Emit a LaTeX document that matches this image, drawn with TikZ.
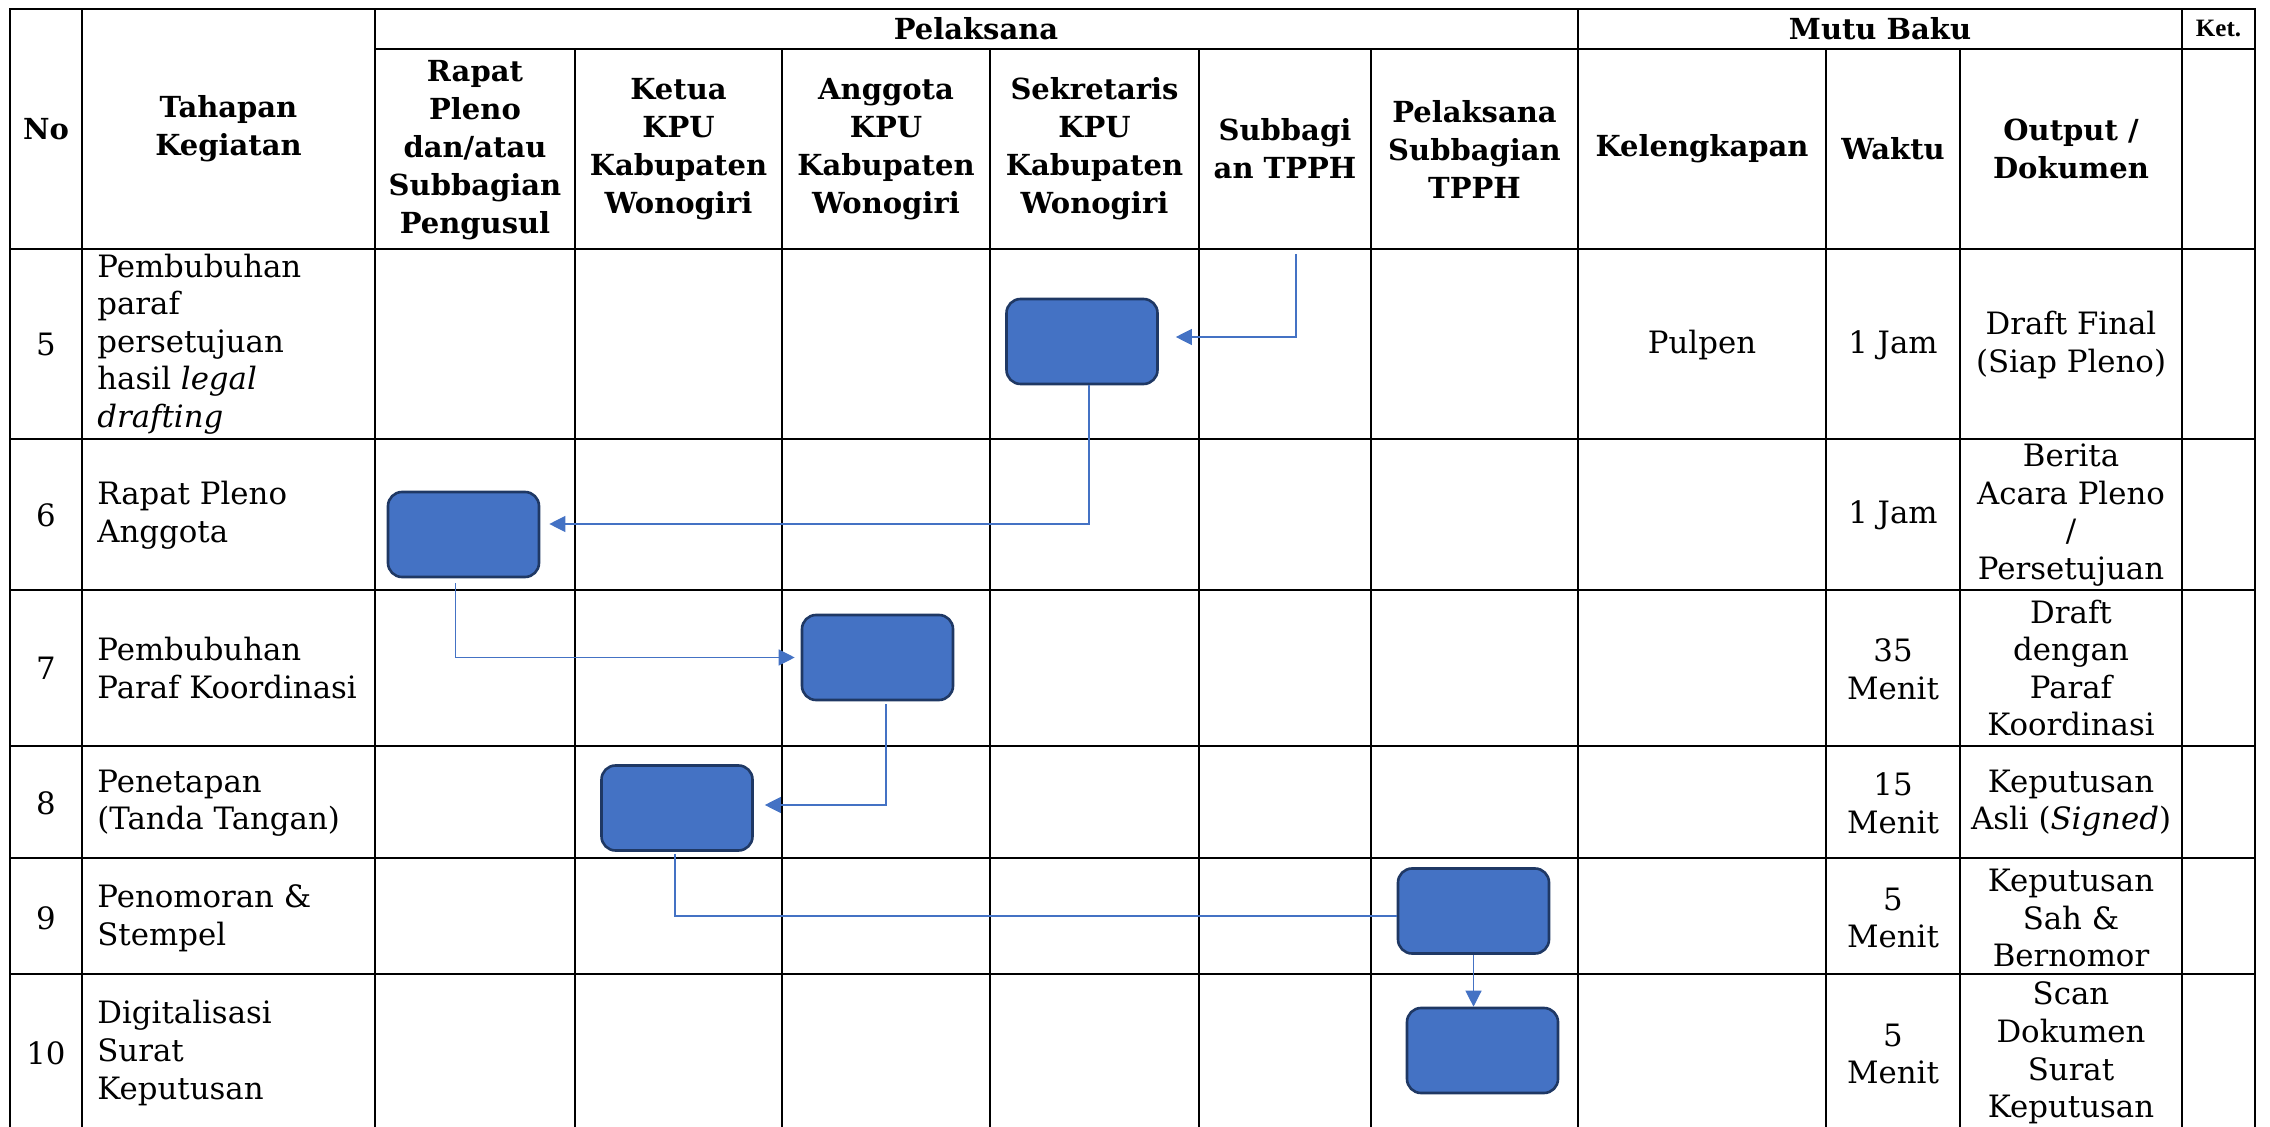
\documentclass[tikz,border=0pt]{standalone}
\usepackage{fontspec}
\setmainfont{DejaVu Serif}
\newfontfamily\ketfont{Liberation Serif}
\usetikzlibrary{arrows.meta,calc}
\definecolor{boxfill}{HTML}{4472C4}
\definecolor{boxline}{HTML}{1F3864}
\definecolor{conncol}{HTML}{4472C4}
\begin{document}
\begin{tikzpicture}[x=0.5pt,y=-0.5pt,
  grid/.style={line width=1.2pt,black,line cap=rect},
  hd/.style={font=\bfseries\fontsize{14.5}{19}\selectfont, align=center, inner sep=0},
  bodyl/.style={font=\fontsize{15.4}{18.8}\selectfont, align=left, inner sep=0, anchor=west},
  bodyc/.style={font=\fontsize{15.4}{18.8}\selectfont, align=center, inner sep=0},
  proc/.style={draw=boxline, fill=boxfill, line width=1.3pt, rounded corners=7pt, minimum width=75.5pt, minimum height=42.5pt, inner sep=0},
  conn/.style={draw=conncol, line width=0.6pt},
  arr/.style={-{Triangle[length=8pt,width=8pt]}}
]
\useasboundingbox (0,0) rectangle (2270,1127);

% grid
\draw[grid] (10,9) -- (2255,9);
\draw[grid] (375,49) -- (2255,49);
\foreach \y in {249,439,590,746,858,974} \draw[grid] (10,\y) -- (2255,\y);
\foreach \x in {10,82,375,1578,2182,2255} \draw[grid] (\x,9) -- (\x,1127);
\foreach \x in {575,782,990,1199,1371,1826,1960} \draw[grid] (\x,49) -- (\x,1127);

% header
\node[hd] (hNo) at (46,129) {No};
\node[hd] (hTah) at (228.5,129) {Tahapan\\Kegiatan};
\node[hd] (hPel) at (976,29) {Pelaksana};
\node[hd] (hMutu) at (1880,29) {Mutu Baku};
\node[font=\ketfont\bfseries\fontsize{12.5}{15}\selectfont, inner sep=0] (hKet) at (2218.5,29) {Ket.};
\node[hd] (hRapat) at (475,150) {Rapat\\Pleno\\dan/atau\\Subbagian\\Pengusul};
\node[hd] (hKetua) at (678.5,149) {Ketua\\KPU\\Kabupaten\\Wonogiri};
\node[hd] (hAng) at (886,149) {Anggota\\KPU\\Kabupaten\\Wonogiri};
\node[hd] (hSek) at (1094.5,149) {Sekretaris\\KPU\\Kabupaten\\Wonogiri};
\node[hd] (hSub) at (1285,149) {Subbagi\\an TPPH};
\node[hd] (hPS) at (1474.5,149) {Pelaksana\\Subbagian\\TPPH};
\node[hd] (hKel) at (1702,149) {Kelengkapan};
\node[hd] (hWak) at (1893,149) {Waktu};
\node[hd] (hOut) at (2071,149) {Output /\\Dokumen};

% row 5
\node[bodyc] (n5) at (46,344) {5};
\node[bodyl] (t5) at (97,344) {Pembubuhan\\paraf\\persetujuan\\hasil \textit{legal}\\\textit{drafting}};
\node[bodyc] (k5) at (1702,345) {Pulpen};
\node[bodyc] (w5) at (1893,345) {1 Jam};
\node[bodyc] (o5) at (2071,345) {Draft Final\\(Siap Pleno)};
% row 6
\node[bodyc] (n6) at (46,515) {6};
\node[bodyl] (t6) at (97,515) {Rapat Pleno\\Anggota};
\node[bodyc] (w6) at (1893,515) {1 Jam};
\node[bodyc] (o6) at (2071,515) {Berita\\Acara Pleno\\/\\Persetujuan};
% row 7
\node[bodyc] (n7) at (46,668) {7};
\node[bodyl] (t7) at (97,668) {Pembubuhan\\Paraf Koordinasi};
\node[bodyc] (w7) at (1893,669) {35\\Menit};
\node[bodyc] (o7) at (2071,668) {Draft\\dengan\\Paraf\\Koordinasi};
% row 8
\node[bodyc] (n8) at (46,803) {8};
\node[bodyl] (t8) at (97,803) {Penetapan\\(Tanda Tangan)};
\node[bodyc] (w8) at (1893,803) {15\\Menit};
\node[bodyc] (o8) at (2071,803) {Keputusan\\Asli (\textit{Signed})};
% row 9
\node[bodyc] (n9) at (46,918) {9};
\node[bodyl] (t9) at (97,918) {Penomoran \&\\Stempel};
\node[bodyc] (w9) at (1893,918) {5\\Menit};
\node[bodyc] (o9) at (2071,918) {Keputusan\\Sah \&\\Bernomor};
% row 10
\node[bodyc] (n10) at (46,1053) {10};
\node[bodyl] (t10) at (97,1053) {Digitalisasi\\Surat\\Keputusan};
\node[bodyc] (w10) at (1893,1054) {5\\Menit};
\node[bodyc] (o10) at (2071,1053) {Scan\\Dokumen\\Surat\\Keputusan};

% process boxes
\node[proc] (A) at (1082,341.5) {};
\node[proc] (B) at (463.5,534.5) {};
\node[proc] (C) at (877.5,657.5) {};
\node[proc] (D) at (677,808) {};
\node[proc] (E) at (1473.5,911) {};
\node[proc] (F) at (1482.5,1050.5) {};

% connectors
\coordinate (c1) at (1296,254);
\draw[conn,arr] (c1) |- ([xshift=8.5pt,yshift=2.25pt]A.east);
\draw[conn,arr] ([xshift=3.5pt]A.south) |- ([xshift=4.5pt,yshift=5.25pt]B.east);
\draw[conn,arr] ([xshift=-4pt,yshift=-2.5pt]B.south) |- ([xshift=-3pt]C.west);
\draw[conn,arr] ([xshift=4.25pt,yshift=-1.5pt]C.south) |- ([xshift=5.5pt,yshift=1.5pt]D.east);
\draw[conn] ([xshift=-1pt,yshift=-1pt]D.south) |- ([yshift=-2.5pt]E.west);
\draw[conn,arr] (E.south) -- (E.south |- F.north);
\end{tikzpicture}
\end{document}
